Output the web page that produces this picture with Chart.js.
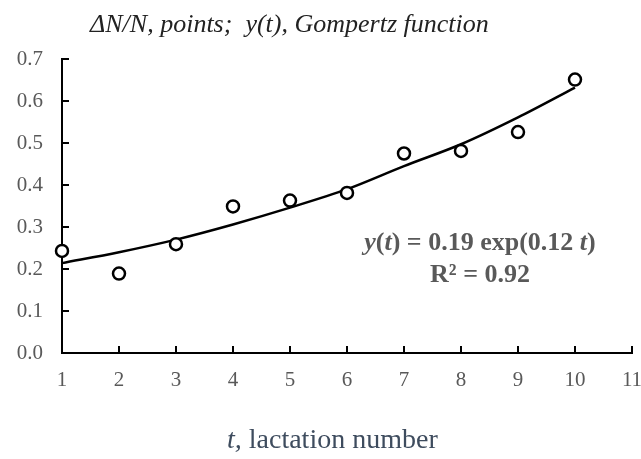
<!DOCTYPE html>
<html>
<head>
<meta charset="utf-8">
<script src="https://cdn.jsdelivr.net/npm/chart.js@4"></script>
<style>
  html, body { margin: 0; padding: 0; background: #fff; }
  #wrap { width: 641px; height: 459px; position: relative; }
</style>
</head>
<body>
<div id="wrap"><canvas id="chart"></canvas></div>
<script>
// lactation number t and measured dN/N points
const lactation = [1, 2, 3, 4, 5, 6, 7, 8, 9, 10];
const ratioPoints = [0.243, 0.189, 0.259, 0.349, 0.363, 0.381, 0.475, 0.481, 0.526, 0.651];
// Gompertz fit curve at each t
const fitCurve = [0.214, 0.240, 0.270, 0.306, 0.346, 0.390, 0.445, 0.497, 0.561, 0.632];
const xTicks = [1, 2, 3, 4, 5, 6, 7, 8, 9, 10, 11];
const yTicks = [0, 0.1, 0.2, 0.3, 0.4, 0.5, 0.6, 0.7];

const serif = "'Liberation Serif', 'DejaVu Serif', serif";

// titles, inner tick marks and the fit equation
const decor = {
  id: "decor",
  afterDraw(chart) {
    const c = chart.ctx;
    const xs = chart.scales.x, ys = chart.scales.y;
    c.save();
    c.strokeStyle = "#000";
    c.lineWidth = 2;
    xTicks.forEach(v => {
      const px = xs.getPixelForValue(v);
      c.beginPath();
      c.moveTo(px, ys.bottom);
      c.lineTo(px, ys.bottom - 7);
      c.stroke();
    });
    yTicks.forEach(v => {
      const py = ys.getPixelForValue(v);
      c.beginPath();
      c.moveTo(xs.left, py);
      c.lineTo(xs.left + 7, py);
      c.stroke();
    });

    c.textBaseline = "middle";
    c.textAlign = "left";
    c.fillStyle = "#222";
    c.font = "italic 26px " + serif;
    c.fillText("\u0394N/N, points;  y(t), Gompertz function", 90, 25);

    // x axis title
    c.fillStyle = "#3e4c5e";
    c.font = "italic 28px " + serif;
    c.fillText("t,", 227, 441);
    const wa = c.measureText("t,").width;
    c.font = "28px " + serif;
    c.fillText(" lactation number", 227 + wa, 441);

    // equation
    c.fillStyle = "#595959";
    const parts = [["bold italic", "y"], ["bold", "("], ["bold italic", "t"], ["bold", ") = 0.19 exp(0.12 "], ["bold italic", "t"], ["bold", ")"]];
    let w = 0;
    parts.forEach(p => { c.font = p[0] + " 26px " + serif; w += c.measureText(p[1]).width; });
    let x = 480 - w / 2;
    parts.forEach(p => { c.font = p[0] + " 26px " + serif; c.fillText(p[1], x, 243); x += c.measureText(p[1]).width; });
    c.textAlign = "center";
    c.font = "bold 26px " + serif;
    c.fillText("R\u00b2 = 0.92", 480, 275);
    c.restore();
  }
};

new Chart(document.getElementById("chart"), {
  type: "scatter",
  data: {
    datasets: [
      {
        label: "points",
        data: lactation.map((t, i) => ({ x: t, y: ratioPoints[i] })),
        pointRadius: 6,
        pointBorderWidth: 2.5,
        pointBorderColor: "#000",
        pointBackgroundColor: "#fff",
        showLine: false,
        clip: false,
        order: 0
      },
      {
        label: "fit",
        data: lactation.map((t, i) => ({ x: t, y: fitCurve[i] })),
        showLine: true,
        borderColor: "#000",
        borderWidth: 2.5,
        pointRadius: 0,
        cubicInterpolationMode: "monotone",
        clip: false,
        order: 1
      }
    ]
  },
  options: {
    responsive: true,
    maintainAspectRatio: false,
    animation: false,
    layout: { padding: { top: 59, right: 9, bottom: 0, left: 0 } },
    plugins: { legend: { display: false }, tooltip: { enabled: false } },
    scales: {
      x: {
        type: "linear",
        min: 1,
        max: 11,
        afterFit: s => { s.height = 106; s.paddingLeft = 0; s.paddingRight = 0; },
        afterBuildTicks: s => { s.ticks = xTicks.map(v => ({ value: v })); },
        border: { display: true, color: "#000", width: 2 },
        grid: { display: true, drawOnChartArea: false, drawTicks: false },
        ticks: { color: "#595959", font: { family: serif, size: 21 }, padding: 15, maxRotation: 0 }
      },
      y: {
        min: 0,
        max: 0.7,
        afterFit: s => { s.width = 62; s.paddingTop = 0; s.paddingBottom = 0; },
        afterBuildTicks: s => { s.ticks = yTicks.map(v => ({ value: v })); },
        border: { display: true, color: "#000", width: 2 },
        grid: { display: true, drawOnChartArea: false, drawTicks: false },
        ticks: { color: "#595959", font: { family: serif, size: 21 }, padding: 19, callback: v => v.toFixed(1) }
      }
    }
  },
  plugins: [decor]
});
</script>
</body>
</html>
